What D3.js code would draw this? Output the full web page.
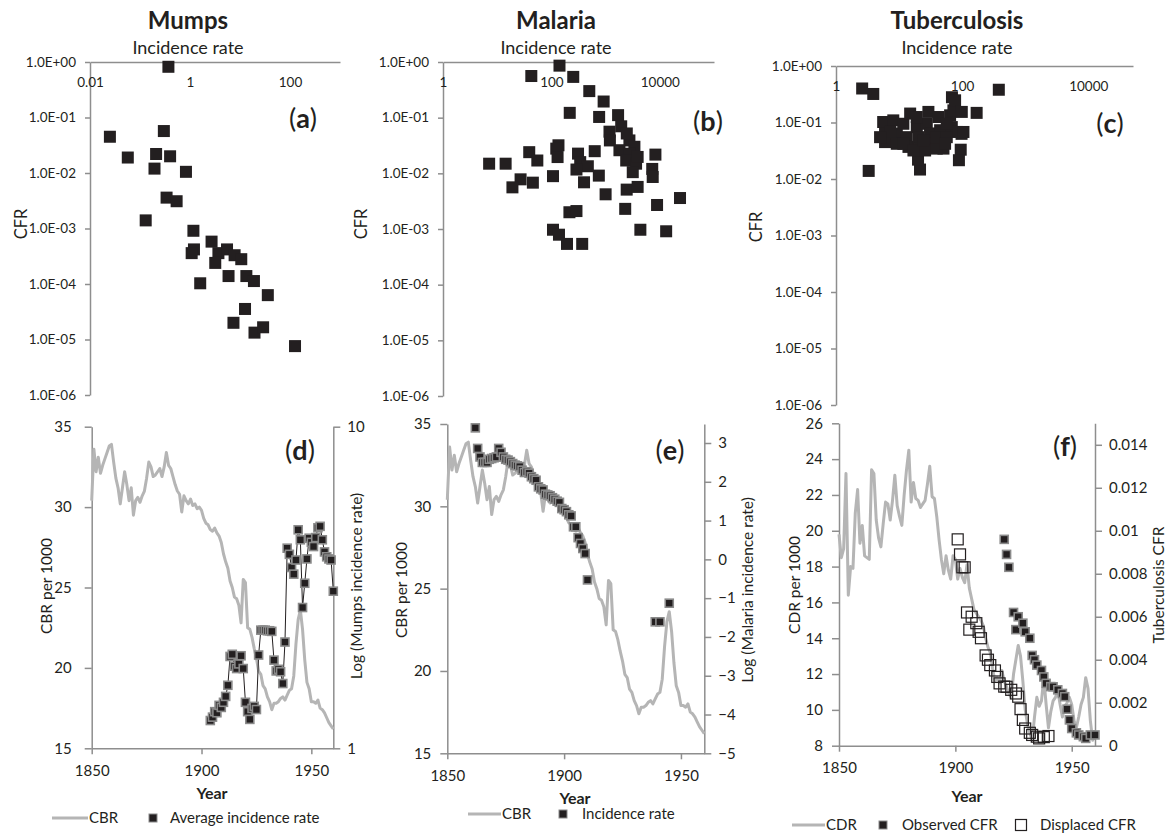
<!DOCTYPE html>
<html>
<head>
<meta charset="utf-8">
<script src="https://cdn.jsdelivr.net/npm/d3@7"></script>
<style>
  body { margin: 0; background: #fff; }
</style>
</head>
<body>
<svg id="svg" width="1167" height="834"></svg>
<script>
// ---- scatter data: incidence rate vs CFR ----
const mumpsInc = [0.37, 0.025, 0.057, 0.30, 0.21, 0.40, 0.195, 0.83, 0.34, 0.54, 0.13, 1.17, 1.2, 1.08, 2.7, 3.7, 3.2, 5.5, 7.8, 10.6, 1.6, 5.9, 13.4, 19, 36, 12.6, 7.4, 19.5, 29, 126]
const mumpsCFR = [0.82, 0.045, 0.019, 0.057, 0.022, 0.020, 0.012, 0.0105, 0.0036, 0.0031, 0.0014, 0.00091, 0.00042, 0.00036, 0.00058, 0.00036, 0.00024, 0.00042, 0.00033, 0.00028, 0.000103, 0.000139, 0.000139, 0.000113, 0.000063, 0.0000355, 0.00002, 0.0000133, 0.0000166, 0.0000076]

const malariaInc = [141, 42.6, 253, 500, 920, 218, 760, 1700, 1940, 1180, 1200, 2750, 3400, 1800, 2750, 2400, 3650, 3170, 8300, 7250, 7400, 2450, 3900, 23600, 8900, 2300, 4380, 13100, 630, 750, 1000, 400, 310, 340, 470, 290, 135, 123, 130, 107, 39, 55, 7.1, 14.3, 27, 19.1, 45.5, 215, 290, 107, 138, 194, 370, 2460, 3900]
const malariaCFR = [0.86, 0.56, 0.54, 0.30, 0.195, 0.122, 0.103, 0.111, 0.070, 0.056, 0.039, 0.039, 0.030, 0.026, 0.0225, 0.017, 0.0149, 0.0105, 0.0217, 0.012, 0.0086, 0.0051, 0.0057, 0.0036, 0.0027, 0.0023, 0.00097, 0.00091, 0.025, 0.0091, 0.0042, 0.0069, 0.0226, 0.0159, 0.0134, 0.0117, 0.0319, 0.0278, 0.0196, 0.0089, 0.024, 0.017, 0.0149, 0.0149, 0.0078, 0.0056, 0.0068, 0.0020, 0.0021, 0.00097, 0.00079, 0.00054, 0.00054, 0.052, 0.0197]

const tbInc = [2.6, 3.9, 382, 3.3, 69, 170, 98, 95, 89, 21.5, 20, 5.6, 6.0, 6.0, 8.1, 9.2, 9.2, 11.7, 13.2, 14.1, 15.0, 19.1, 20.3, 21.5, 29.2, 27.5, 31.0, 35.1, 42.1, 44.8, 47.6, 50.6, 64.5, 68.6, 72.8, 77.4, 82.3, 98.8, 105, 7.2, 5.0, 11.7, 16.9, 25.9, 39.6, 24.3, 39.6, 57.1, 57.1, 53.7, 19.1]
const tbCFR = [0.40, 0.32, 0.38, 0.0139, 0.28, 0.148, 0.063, 0.033, 0.0215, 0.0147, 0.022, 0.102, 0.064, 0.045, 0.109, 0.064, 0.042, 0.095, 0.055, 0.037, 0.144, 0.083, 0.055, 0.0345, 0.154, 0.095, 0.064, 0.042, 0.125, 0.073, 0.0485, 0.0345, 0.134, 0.083, 0.164, 0.247, 0.068, 0.154, 0.068, 0.068, 0.055, 0.042, 0.032, 0.032, 0.0345, 0.0485, 0.055, 0.055, 0.095, 0.042, 0.125]

const cfrTicks = [1, 0.1, 0.01, 0.001, 0.0001, 0.00001, 0.000001]

// ---- time series data ----
const years = d3.range(1850, 1961)
const cbr = [
  30.4, 33.6, 32.2, 33.1, 32.1, 32.6, 33.0, 33.4, 33.8, 33.9,
  32.8, 31.8, 31.2, 30.2, 31.2, 32.2, 31.4, 30.4, 31.2, 29.5,
  30.4, 30.6, 30.3, 30.7, 31.0, 31.8, 32.8, 32.5, 31.9, 32.0,
  32.2, 32.4, 31.9, 32.5, 33.4, 32.6, 32.4, 31.9, 31.4, 31.0,
  30.8, 29.7, 30.7, 30.4, 30.2, 30.5, 30.1, 30.2, 29.9, 30.0,
  29.8, 29.3, 29.0, 28.9, 28.6, 28.5, 28.7, 28.4, 28.2, 27.8,
  27.1, 26.6, 26.2, 25.4, 25.0, 24.4, 24.3, 23.9, 22.8, 25.5,
  25.3, 22.5, 22.4, 21.9, 21.2, 20.6, 19.8, 19.6, 18.9, 18.7,
  18.2, 17.9, 17.4, 17.8, 17.8, 17.9, 18.1, 18.2, 18.0, 18.3,
  18.6, 18.7, 19.5, 21.5, 23.0, 23.6, 22.4, 20.5, 19.1, 18.7,
  17.9, 17.9, 17.8, 18.0, 17.5, 17.4, 17.2, 16.9, 16.6, 16.4, 16.2
]
const cdr = [
  19.8, 18.5, 19.0, 23.2, 16.4, 18.0, 17.9, 21.0, 22.3, 19.3,
  20.3, 18.6, 18.5, 18.4, 23.4, 23.2, 20.6, 19.6, 19.1, 20.4,
  21.6, 21.5, 20.6, 21.7, 23.1, 21.4, 20.8, 20.3, 22.0, 23.4,
  24.5, 21.6, 22.7, 21.8, 21.7, 21.3, 21.5, 21.7, 22.6, 23.6,
  21.9, 21.8, 20.8, 19.5, 18.4, 17.6, 18.6, 17.8, 17.3, 18.6,
  18.4, 17.3, 17.9, 17.4, 17.1, 18.1, 16.8, 16.2, 15.6, 15.4,
  15.2, 15.0, 14.7, 14.0, 13.5, 13.2, 12.3, 11.6, 11.8, 11.5,
  12.2, 11.6, 11.3, 10.9, 10.7, 12.0, 12.8, 13.6, 13.0, 11.6,
  10.0, 9.2, 8.7, 8.3, 9.6, 10.7, 10.2, 10.5, 11.8, 10.3,
  9.0, 9.9, 10.5, 10.7, 11.1, 10.3, 9.6, 10.2, 10.4, 10.7,
  10.3, 9.4, 9.0, 9.6, 10.3, 10.7, 11.8, 11.2, 9.4, 8.3, 8.6
]

const mumpsYears = d3.range(1904, 1961)
const mumpsRate = [
  1.22, 1.25, 1.30, 1.29, 1.36, 1.34, 1.39, 1.45, 1.57, 1.93,
  1.96, 1.80, 1.77, 1.83, 1.94, 1.77, 1.39, 1.30, 1.23, 1.33,
  1.35, 1.32, 1.95, 2.33, 2.33, 2.33, 2.32, 2.32, 2.31, 1.88,
  1.74, 1.76, 1.73, 1.59, 2.14, 4.19, 4.01, 3.65, 3.48, 3.85,
  4.78, 4.45, 2.74, 3.26, 3.88, 4.50, 4.37, 4.24, 4.52, 4.85,
  4.90, 4.45, 4.08, 3.94, 3.88, 3.85, 3.08
]

const malariaYears = [
  1862, 1863, 1864, 1865, 1866, 1867, 1868, 1869, 1870, 1871,
  1872, 1873, 1874, 1875, 1876, 1877, 1878, 1879, 1880, 1881,
  1882, 1883, 1884, 1885, 1886, 1887, 1888, 1889, 1890, 1891,
  1892, 1893, 1894, 1895, 1896, 1897, 1898, 1899, 1900, 1901,
  1902, 1903, 1904, 1905, 1906, 1907, 1908, 1909, 1910,
  1939, 1941, 1945
]
const malariaLog = [
  3.39, 2.86, 2.64, 2.50, 2.50, 2.50, 2.58, 2.60, 2.62, 2.64,
  2.86, 2.76, 2.64, 2.58, 2.56, 2.52, 2.47, 2.43, 2.41, 2.39,
  2.30, 2.24, 2.26, 2.22, 2.13, 2.08, 2.04, 1.87, 1.82, 1.79,
  1.68, 1.66, 1.64, 1.59, 1.55, 1.50, 1.47, 1.31, 1.28, 1.23,
  1.15, 1.12, 0.84, 0.84, 0.56, 0.41, 0.28, 0.15, -0.53,
  -1.61, -1.61, -1.13
]

const observedYears = [1921, 1922, 1923, 1925, 1926, 1927, 1929, 1930, 1932, 1933, 1934, 1935, 1937, 1938, 1939, 1941, 1942, 1944, 1946, 1947, 1948, 1949, 1950, 1952, 1953, 1955, 1956, 1958, 1960]
const observedCFR = [0.0096, 0.0089, 0.0083, 0.0062, 0.0054, 0.0060, 0.0057, 0.0053, 0.0050, 0.0042, 0.0040, 0.00375, 0.0035, 0.0032, 0.0029, 0.00275, 0.00274, 0.0026, 0.00243, 0.00228, 0.0017, 0.0012, 0.0008, 0.0006, 0.0005, 0.00042, 0.00034, 0.0005, 0.0005]
const displacedYears = [1901, 1902, 1903, 1904, 1905, 1906, 1907, 1909, 1910, 1911, 1913, 1914, 1915, 1917, 1918, 1919, 1921, 1922, 1924, 1926, 1927, 1928, 1929, 1930, 1932, 1933, 1935, 1936, 1938, 1940]
const displacedCFR = [0.0096, 0.0089, 0.0083, 0.0083, 0.0062, 0.0054, 0.0060, 0.0057, 0.0053, 0.0050, 0.0042, 0.0040, 0.00375, 0.0035, 0.0032, 0.0029, 0.00275, 0.00274, 0.0026, 0.00243, 0.00228, 0.0017, 0.0012, 0.0008, 0.0006, 0.0005, 0.00042, 0.00034, 0.0004, 0.00045]

// ---- look ----
const font = 'Lato, "Open Sans", sans-serif'
const ink = '#231f20'
const axisGrey = '#8e8e8e'
const lineGrey = '#b5b5b5'
const markEdge = '#8a8a8a'

const svg = d3.select('#svg').style('font-family', font)

function styleAxis(sel, size) {
  sel.attr('font-family', font).attr('font-size', size)
  sel.select('.domain').attr('stroke', axisGrey).attr('stroke-width', 1.5)
  sel.selectAll('.tick line').attr('stroke', axisGrey).attr('stroke-width', 1.5)
  sel.selectAll('.tick text').attr('fill', ink)
}

function sci(d) {
  const e = Math.round(Math.log10(d))
  return '1.0E' + (e < 0 ? '-' : '+') + String(Math.abs(e)).padStart(2, '0')
}

function addText(x, y, txt, size, opts = {}) {
  const t = svg.append('text')
    .attr('x', x).attr('y', y)
    .attr('text-anchor', opts.anchor || 'middle')
    .attr('font-size', size)
    .attr('font-weight', opts.bold ? 700 : 400)
    .attr('fill', ink)
    .text(txt)
  if (opts.rotate) t.attr('transform', `rotate(-90,${x},${y})`)
  return t
}

function panelTag(x, y, letter) {
  const t = svg.append('text').attr('x', x).attr('y', y)
    .attr('text-anchor', 'middle').attr('font-size', 27).attr('fill', ink)
  t.append('tspan').text('(')
  t.append('tspan').attr('font-weight', 700).text(letter)
  t.append('tspan').text(')')
}

// ---- scatter panels (a)-(c) ----
function drawScatter(p) {
  const x = d3.scaleLog().domain(p.xDomain).range([p.left, p.right])
  const y = d3.scaleLog().domain([1e-6, 1]).range([p.bottom, p.top])
  const g = svg.append('g')

  g.append('g')
    .attr('transform', `translate(${p.left},0)`)
    .call(d3.axisLeft(y).tickValues(cfrTicks).tickFormat(sci).tickSize(5).tickSizeOuter(0).tickPadding(9))
    .call(styleAxis, 13.5)

  g.append('g')
    .attr('transform', `translate(0,${p.top})`)
    .call(d3.axisBottom(x).tickValues(p.xTicks).tickFormat(d3.format('~g')).tickSize(0).tickSizeOuter(0).tickPadding(15))
    .call(styleAxis, 13.5)

  const pts = p.inc.map((v, i) => ({ inc: v, cfr: p.cfr[i] }))
  g.selectAll('rect.pt')
    .data(pts)
    .enter()
    .append('rect')
    .attr('class', 'pt')
    .attr('x', d => x(d.inc) - 6)
    .attr('y', d => y(d.cfr) - 6)
    .attr('width', 12)
    .attr('height', 12)
    .attr('fill', ink)

  addText(p.titleX, 29, p.title, 24, { bold: true })
  addText(p.titleX, 54, 'Incidence rate', 18)
  addText(p.cfrX, p.cfrY, 'CFR', 16.5, { rotate: true })
  panelTag(p.tagX, p.tagY, p.tag)
}

drawScatter({ inc: mumpsInc, cfr: mumpsCFR, xDomain: [0.01, 1000], xTicks: [0.01, 1, 100],
  left: 90, right: 340, top: 62, bottom: 395, title: 'Mumps', titleX: 188,
  cfrX: 27, cfrY: 224, tag: 'a', tagX: 303, tagY: 128 })
drawScatter({ inc: malariaInc, cfr: malariaCFR, xDomain: [1, 100000], xTicks: [1, 100, 10000],
  left: 443, right: 714, top: 62, bottom: 396, title: 'Malaria', titleX: 556,
  cfrX: 367, cfrY: 224, tag: 'b', tagX: 708, tagY: 131 })
drawScatter({ inc: tbInc, cfr: tbCFR, xDomain: [1, Math.pow(10, 4.71)], xTicks: [1, 100, 10000],
  left: 836, right: 1133, top: 66, bottom: 405, title: 'Tuberculosis', titleX: 957,
  cfrX: 762, cfrY: 227, tag: 'c', tagX: 1110, tagY: 133 })

// ---- time series panels (d)-(f) ----
function drawFrame(p) {
  const x = d3.scaleLinear().domain([1850, 1960]).range([p.left, p.right])
  const yL = d3.scaleLinear().domain(p.leftDomain).range([p.bottom, p.top])
  const yR = p.rightScale.range([p.bottom, p.top])

  svg.append('g')
    .attr('transform', `translate(0,${p.bottom})`)
    .call(d3.axisBottom(x).tickValues([1850, 1900, 1950]).tickFormat(d3.format('d')).tickSize(6).tickSizeOuter(0).tickPadding(11))
    .call(styleAxis, 15)
  svg.append('g')
    .attr('transform', `translate(${p.left},0)`)
    .call(d3.axisLeft(yL).tickValues(p.leftTicks).tickSize(7).tickSizeOuter(0).tickPadding(p.leftPad))
    .call(styleAxis, 15)
  svg.append('g')
    .attr('transform', `translate(${p.right},0)`)
    .call(d3.axisRight(yR).tickValues(p.rightTicks).tickFormat(p.rightFormat).tickSize(7).tickSizeOuter(0).tickPadding(7))
    .call(styleAxis, 15)

  addText(p.yearX, p.yearY, 'Year', 16, { bold: true })
  addText(p.leftLabelX, p.labelY, p.leftLabel, 15.5, { rotate: true })
  addText(p.rightLabelX, p.labelY, p.rightLabel, 15.5, { rotate: true })
  panelTag(p.tagX, p.tagY, p.tag)
  return { x, yL, yR }
}

function greyLine(sc, vals, yScale) {
  svg.append('path')
    .datum(years.map((yr, i) => [yr, vals[i]]))
    .attr('d', d3.line().x(d => sc.x(d[0])).y(d => yScale(d[1])))
    .attr('fill', 'none')
    .attr('stroke', lineGrey)
    .attr('stroke-width', 3)
    .attr('stroke-linejoin', 'round')
}

function filledMarks(data, xs, ys, size) {
  svg.append('g').selectAll('rect')
    .data(data)
    .enter()
    .append('rect')
    .attr('x', d => xs(d[0]) - size / 2)
    .attr('y', d => ys(d[1]) - size / 2)
    .attr('width', size)
    .attr('height', size)
    .attr('fill', ink)
    .attr('stroke', markEdge)
    .attr('stroke-width', 1.6)
}

function legendLine(x1, x2, y, label) {
  svg.append('line').attr('x1', x1).attr('x2', x2).attr('y1', y).attr('y2', y)
    .attr('stroke', lineGrey).attr('stroke-width', 3)
  addText(x2 + 1, y + 5, label, 15, { anchor: 'start' })
}
function legendMark(cx, y, label, tx, open) {
  const s = open ? 11 : 8
  svg.append('rect').attr('x', cx - s / 2).attr('y', y - s / 2).attr('width', s).attr('height', s)
    .attr('fill', open ? 'none' : ink)
    .attr('stroke', open ? ink : markEdge)
    .attr('stroke-width', open ? 1.2 : 1)
  addText(tx, y + 5, label, 15, { anchor: 'start' })
}

// (d) Mumps
const dS = drawFrame({ left: 91.7, right: 333.3, top: 426.7, bottom: 748.3,
  leftDomain: [15, 35], leftTicks: [15, 20, 25, 30, 35], leftPad: 13,
  rightScale: d3.scaleLog().domain([1, 10]), rightTicks: [1, 10], rightFormat: d3.format('d'),
  yearX: 212, yearY: 799, leftLabel: 'CBR per 1000', leftLabelX: 52, rightLabel: 'Log (Mumps incidence rate)',
  rightLabelX: 362, labelY: 586, tag: 'd', tagX: 300, tagY: 460 })
greyLine(dS, cbr, dS.yL)
const mumpsPts = mumpsYears.map((yr, i) => [yr, mumpsRate[i]])
svg.append('path')
  .datum(mumpsPts)
  .attr('d', d3.line().x(d => dS.x(d[0])).y(d => dS.yR(d[1])))
  .attr('fill', 'none').attr('stroke', ink).attr('stroke-width', 1)
filledMarks(mumpsPts, dS.x, dS.yR, 8)
legendLine(52, 88, 818, 'CBR')
legendMark(153, 818, 'Average incidence rate', 170, false)

// (e) Malaria
const eS = drawFrame({ left: 447.3, right: 704.3, top: 424, bottom: 753.3,
  leftDomain: [15, 35], leftTicks: [15, 20, 25, 30, 35], leftPad: 9,
  rightScale: d3.scaleLinear().domain([-5, 3.49]), rightTicks: d3.range(-5, 4), rightFormat: d3.format('d'),
  yearX: 575, yearY: 804, leftLabel: 'CBR per 1000', leftLabelX: 407, rightLabel: 'Log (Malaria incidence rate)',
  rightLabelX: 753, labelY: 590, tag: 'e', tagX: 670, tagY: 460 })
greyLine(eS, cbr, eS.yL)
filledMarks(malariaYears.map((yr, i) => [yr, malariaLog[i]]), eS.x, eS.yR, 8)
legendLine(468, 501, 814, 'CBR')
legendMark(563, 814, 'Incidence rate', 582, false)

// (f) Tuberculosis
const fS = drawFrame({ left: 839, right: 1095, top: 423.3, bottom: 745.7,
  leftDomain: [8, 26], leftTicks: d3.range(8, 27, 2), leftPad: 9,
  rightScale: d3.scaleLinear().domain([0, 0.015]), rightTicks: [0, 0.002, 0.004, 0.006, 0.008, 0.01, 0.012, 0.014], rightFormat: d3.format('~g'),
  yearX: 967, yearY: 802, leftLabel: 'CDR per 1000', leftLabelX: 800, rightLabel: 'Tuberculosis CFR',
  rightLabelX: 1164, labelY: 585, tag: 'f', tagX: 1065, tagY: 456 })
greyLine(fS, cdr, fS.yL)
svg.append('g').selectAll('rect')
  .data(displacedYears.map((yr, i) => [yr, displacedCFR[i]]))
  .enter()
  .append('rect')
  .attr('x', d => fS.x(d[0]) - 5.5)
  .attr('y', d => fS.yR(d[1]) - 5.5)
  .attr('width', 11)
  .attr('height', 11)
  .attr('fill', 'none')
  .attr('stroke', ink)
  .attr('stroke-width', 1.2)
filledMarks(observedYears.map((yr, i) => [yr, observedCFR[i]]), fS.x, fS.yR, 8)
legendLine(792, 825, 825, 'CDR')
legendMark(883, 825, 'Observed CFR', 902, false)
legendMark(1021, 825, 'Displaced CFR', 1040, true)
</script>
</body>
</html>
